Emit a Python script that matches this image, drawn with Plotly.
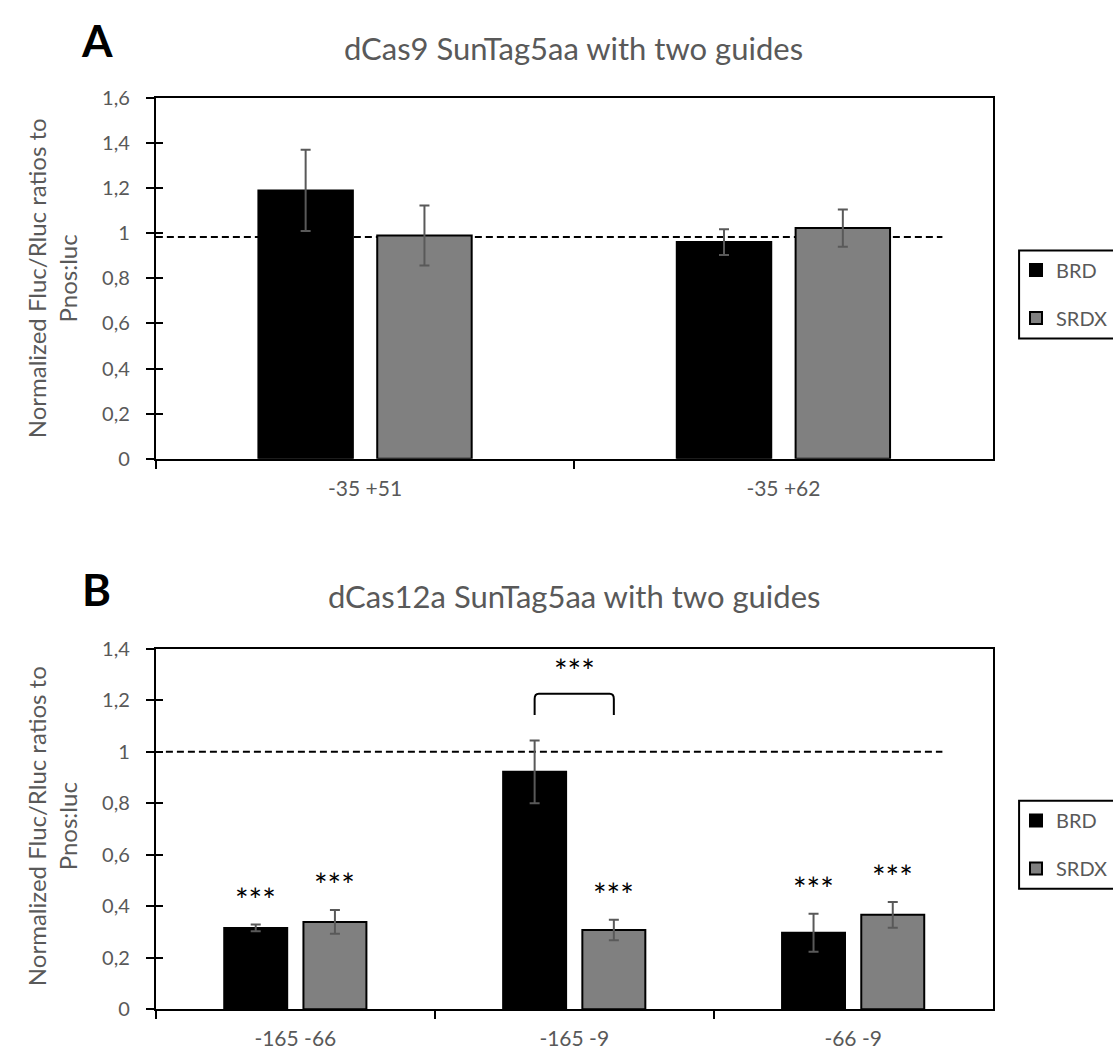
import plotly.graph_objects as go

W, H = 1113, 1061

# ---------------- data ----------------
# Panel A
cats_a = ["-35 +51", "-35 +62"]
brd_a = [1.19, 0.961]
brd_a_err = [0.18, 0.057]
srdx_a = [0.99, 1.023]
srdx_a_err = [0.133, 0.083]
ref_a = 0.984

# Panel B
cats_b = ["-165 -66", "-165 -9", "-66 -9"]
brd_b = [0.316, 0.922, 0.297]
brd_b_err = [0.013, 0.122, 0.074]
srdx_b = [0.339, 0.308, 0.367]
srdx_b_err = [0.046, 0.040, 0.050]
ref_b = 1.0
sig_brd_b = ["***", "", "***"]
sig_srdx_b = ["***", "***", "***"]
bracket_label_b = "***"
bracket_cat_b = 1  # index of the category compared by the bracket

titles = ["dCas9 SunTag5aa with two guides", "dCas12a SunTag5aa with two guides"]
panel_letters = ["A", "B"]
series_names = ["BRD", "SRDX"]
ytitle = "Normalized Fluc/Rluc ratios to<br>Pnos:luc"

# ---------------- style ----------------
FONT = "Lato"
GREY_TXT = "#595959"
BAR_COLORS = ["#000000", "#808080"]
ERR_COLOR = "#595959"
BARGAP = 0.432
BARGROUPGAP = 0.205

def px_x(p):
    return p / W

def px_y(p):
    return 1 - p / H

X_DOM = [px_x(156), px_x(993.5)]
Y_DOM_A = [px_y(456), px_y(87)]
Y_DOM_B = [px_y(1019.3), px_y(650.5)]

fig = go.Figure()

def add_bars(cats, vals, errs, idx, xa, ya, legend):
    fig.add_trace(go.Bar(
        x=cats, y=vals, name=series_names[idx],
        marker=dict(color=BAR_COLORS[idx], line=dict(color="#000000", width=2)),
        error_y=dict(type="data", array=errs, visible=True, color=ERR_COLOR,
                     thickness=2, width=5),
        xaxis=xa, yaxis=ya, legend=legend,
        legendgroup=f"{legend}_{idx}",
    ))

add_bars(cats_a, brd_a, brd_a_err, 0, "x", "y", "legend")
add_bars(cats_a, srdx_a, srdx_a_err, 1, "x", "y", "legend")
add_bars(cats_b, brd_b, brd_b_err, 0, "x2", "y2", "legend2")
add_bars(cats_b, srdx_b, srdx_b_err, 1, "x2", "y2", "legend2")

# empty traces so the overlay tick axes (inner half of the cross ticks) are drawn
fig.add_trace(go.Scatter(x=[], y=[], xaxis="x", yaxis="y3", showlegend=False))
fig.add_trace(go.Scatter(x=[], y=[], xaxis="x2", yaxis="y4", showlegend=False))

tickfont = dict(family=FONT, size=20, color=GREY_TXT)
xtickfont = dict(family=FONT, size=21, color=GREY_TXT)

def xaxis_cfg():
    return dict(
        domain=X_DOM, type="category", tickson="boundaries",
        ticks="outside", ticklen=8, tickwidth=2, tickcolor="#000000",
        showline=True, linewidth=2, linecolor="#000000", mirror=True,
        showgrid=False, zeroline=False, tickfont=xtickfont,
        ticklabelstandoff=10,
    )

def yaxis_cfg(dom, rng, anchor):
    return dict(
        domain=dom, range=rng, dtick=0.2, tick0=0, anchor=anchor,
        ticks="outside", ticklen=8, tickwidth=2, tickcolor="#000000",
        showline=True, linewidth=2, linecolor="#000000", mirror=True,
        showgrid=False, zeroline=False, tickfont=tickfont,
        ticklabelstandoff=12,
    )

def yover_cfg(over, rng, anchor):
    return dict(
        overlaying=over, range=rng, dtick=0.2, tick0=0, anchor=anchor,
        side="left", ticks="inside", ticklen=7, tickwidth=2,
        tickcolor="#000000", showline=False, showgrid=False,
        zeroline=False, showticklabels=False,
    )

legend_common = dict(
    xanchor="left", yanchor="middle",
    font=dict(family=FONT, size=20, color=GREY_TXT),
    bgcolor="rgba(0,0,0,0)", borderwidth=0,
    traceorder="grouped", tracegroupgap=19, itemclick=False,
)

fig.update_layout(
    width=W, height=H,
    margin=dict(l=0, r=0, t=0, b=0),
    paper_bgcolor="white", plot_bgcolor="white",
    barmode="group", bargap=BARGAP, bargroupgap=BARGROUPGAP,
    separators=", ",
    font=dict(family=FONT, color=GREY_TXT),
    xaxis=dict(**xaxis_cfg(), anchor="y"),
    yaxis=yaxis_cfg(Y_DOM_A, [0, 1.6], "x"),
    xaxis2=dict(**xaxis_cfg(), anchor="y2"),
    yaxis2=yaxis_cfg(Y_DOM_B, [0, 1.4], "x2"),
    yaxis3=yover_cfg("y", [0, 1.6], "x"),
    yaxis4=yover_cfg("y2", [0, 1.4], "x2"),
    legend=dict(x=px_x(1017), y=px_y(287.5), **legend_common),
    legend2=dict(x=px_x(1017), y=px_y(850.8), **legend_common),
)

# reference (dashed) lines at the normalisation level
fig.add_shape(type="line", xref="x domain", yref="y", x0=0, x1=0.94,
              y0=ref_a, y1=ref_a, layer="below",
              line=dict(color="#000000", width=2, dash="7px,4px"))
fig.add_shape(type="line", xref="x2 domain", yref="y2", x0=0.012, x1=0.94,
              y0=ref_b, y1=ref_b, layer="below",
              line=dict(color="#000000", width=2, dash="7px,4px"))

# legend boxes (right edge runs off the page as in the reference)
for top, bot in [(243, 333), (806, 896)]:
    fig.add_shape(type="rect", xref="paper", yref="paper",
                  x0=px_x(1020), x1=1.05, y0=px_y(bot), y1=px_y(top),
                  line=dict(color="#000000", width=2), fillcolor="rgba(0,0,0,0)")

# panel letters, titles, y titles
for letter, ly in zip(panel_letters, [28, 589]):
    fig.add_annotation(text=f"<b>{letter}</b>", xref="paper", yref="paper",
                       x=px_x(97), y=px_y(ly), showarrow=False,
                       xanchor="center", yanchor="middle",
                       font=dict(family=FONT, size=44, color="#000000"))
for title, ty in zip(titles, [36, 597]):
    fig.add_annotation(text=title, xref="paper", yref="paper",
                       x=px_x(574.5), y=px_y(ty), showarrow=False,
                       xanchor="center", yanchor="middle",
                       font=dict(family=FONT, size=31, color=GREY_TXT))
for ty in [271.5, 832]:
    fig.add_annotation(text=ytitle, xref="paper", yref="paper",
                       x=px_x(52), y=px_y(ty), showarrow=False, textangle=-90,
                       xanchor="center", yanchor="middle",
                       font=dict(family=FONT, size=24, color=GREY_TXT))

# significance asterisks above bars of panel B
off = (1 - BARGAP) / 4  # half a bar slot, in category units
star_font = dict(family=FONT, size=32, color="#000000")
STAR_SHIFT = -8  # Lato draws '*' high in its line box
for i in range(len(cats_b)):
    for sig, vals, errs, sgn in [(sig_brd_b, brd_b, brd_b_err, -1),
                                 (sig_srdx_b, srdx_b, srdx_b_err, 1)]:
        if sig[i]:
            fig.add_annotation(text=sig[i], xref="x2", yref="y2",
                               x=i + sgn * off, y=vals[i] + errs[i] + 0.13,
                               showarrow=False, xanchor="center",
                               yanchor="middle", yshift=STAR_SHIFT,
                               font=star_font)

# bracket between BRD and SRDX of the compared category
c = bracket_cat_b
bx0, bx1 = c - off, c + off
y_leg, y_top = 1.143, 1.225
rx, ry = 0.015, 0.02
path = (f"M {bx0},{y_leg} L {bx0},{y_top - ry} Q {bx0},{y_top} {bx0 + rx},{y_top} "
        f"L {bx1 - rx},{y_top} Q {bx1},{y_top} {bx1},{y_top - ry} L {bx1},{y_leg}")
fig.add_shape(type="path", xref="x2", yref="y2", path=path,
              line=dict(color="#000000", width=2))
fig.add_annotation(text=bracket_label_b, xref="x2", yref="y2",
                   x=c, y=1.346, showarrow=False, xanchor="center",
                   yanchor="middle", yshift=STAR_SHIFT, font=star_font)

fig.write_html("out.html",
               config={"displayModeBar": False},
               post_script="document.body.style.margin='0px';"
                           "document.body.style.overflow='hidden';")
